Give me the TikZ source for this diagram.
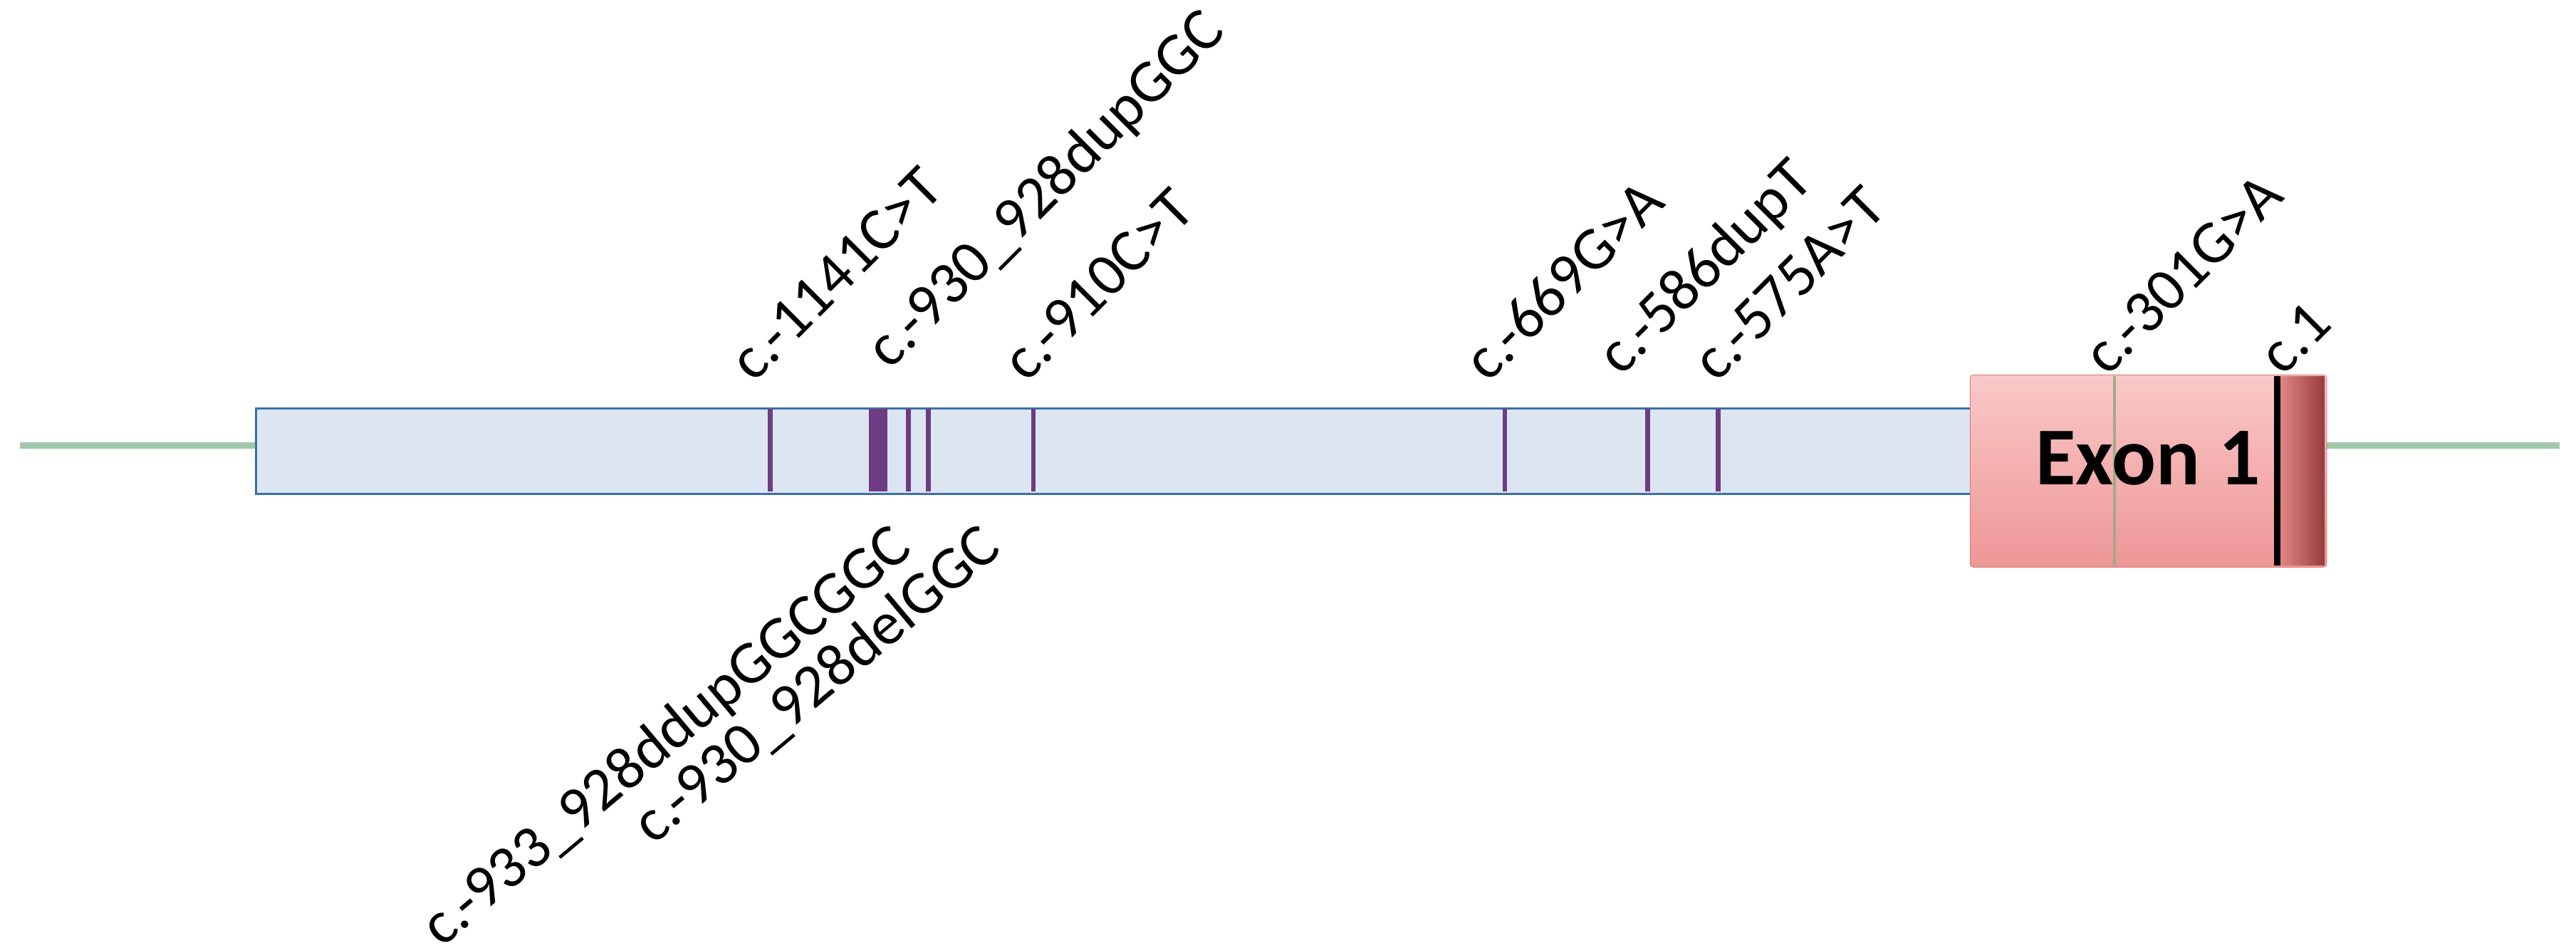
\documentclass[tikz,border=0pt]{standalone}
\usepackage{fontspec}
\setmainfont{Carlito}
\begin{document}
\begin{tikzpicture}[x=1pt,y=-1pt,
  lab/.style={font=\fontsize{37}{39}\selectfont, inner sep=0pt, rotate=45},
  labb/.style={font=\fontsize{37}{39}\selectfont, inner sep=0pt, rotate=40},
  mut/.style={draw={rgb,255:red,110;green,60;blue,130}, line width=3pt}]
\useasboundingbox (0,0) rectangle (1568,577);
\coordinate (gl) at (12,271); \coordinate (gr) at (1558,271);
\draw[line width=4pt, color={rgb,255:red,160;green,200;blue,170}] (gl) -- (155,271);
\draw[line width=4pt, color={rgb,255:red,160;green,200;blue,170}] (1416,271) -- (gr);
\node[draw={rgb,255:red,60;green,110;blue,170}, line width=1.3pt, fill={rgb,255:red,220;green,230;blue,242}, minimum width=1052pt, minimum height=52pt, anchor=north west, inner sep=0pt] (bar) at (155,248) {};
\foreach \x in {469,553,565,629,916,1003,1046} \draw[mut] (\x,249) -- (\x,299);
\fill[color={rgb,255:red,110;green,60;blue,130}] (529,249) rectangle (540,299);
% exon
\node[rounded corners=2pt, top color={rgb,255:red,250;green,200;blue,200}, bottom color={rgb,255:red,238;green,150;blue,150}, draw={rgb,255:red,215;green,130;blue,130}, minimum width=217pt, minimum height=117pt, anchor=north west, inner sep=0pt] (exon) at (1199,228) {};
\shade[left color={rgb,255:red,230;green,140;blue,140}, right color={rgb,255:red,150;green,60;blue,60}] (1386,229) rectangle (1415,344);
\draw[line width=2pt, color={rgb,255:red,160;green,170;blue,140}] (1287,229) -- (1287,344);
\draw[line width=4pt, black] (1386,229) -- (1386,344);
\node[font=\fontsize{50}{50}\selectfont\bfseries, anchor=base west, inner sep=0pt] (ex) at (1239,295) {Exon 1};
% labels above
\node[lab, anchor=south west] (l1) at (459,234) {c.-1141C>T};
\node[lab, anchor=south west] (l2) at (546,230) {c.-930\_928dupGGC};
\node[lab, anchor=south west] (l3) at (625,234) {c.-910C>T};
\node[lab, anchor=south west] (l4) at (906,234) {c.-669G>A};
\node[lab, anchor=south west] (l5) at (991,234) {c.-586dupT};
\node[lab, anchor=south west] (l6) at (1045,234) {c.-575A>T};
\node[lab, anchor=south west] (l7) at (1283,230) {c.-301G>A};
\node[lab, anchor=south west] (l8) at (1390,230) {c.1};
% labels below
\node[labb, anchor=north east] (b1) at (540,316) {c.-933\_928ddupGGCGGC};
\node[labb, anchor=north east] (b2) at (594,316) {c.-930\_928delGGC};
\end{tikzpicture}
\end{document}
